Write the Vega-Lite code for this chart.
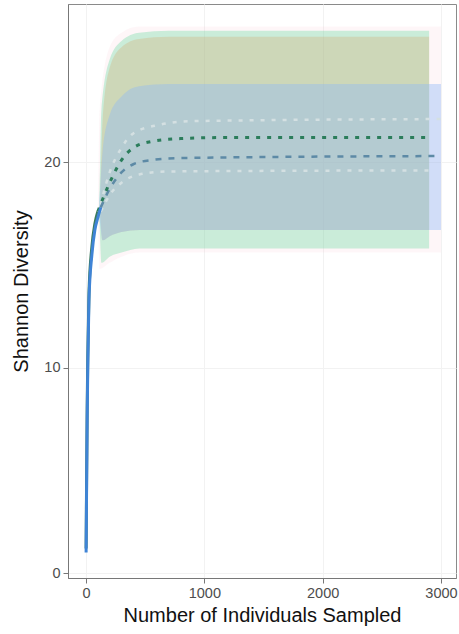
{
  "$schema": "https://vega.github.io/schema/vega-lite/v6.json",
  "width": 388,
  "height": 574,
  "autosize": {"type": "none"},
  "padding": {"left": 68, "top": 4, "right": 3, "bottom": 56},
  "background": "white",
  "config": {
    "view": {"stroke": "#8a8a8a", "strokeWidth": 1},
    "font": "Liberation Sans",
    "axis": {
      "domainColor": "#777777",
      "tickColor": "#777777",
      "tickSize": 5,
      "labelColor": "#4d4d4d",
      "labelFontSize": 14.5,
      "titleFontSize": 20,
      "titleFontWeight": "normal",
      "titleColor": "#111111",
      "gridColor": "#f2f2f2",
      "gridWidth": 1
    }
  },
  "datasets": {
    "bands": [
      {"group": "P", "x": 0, "lo": 1, "hi": 1},
      {"group": "P", "x": 50, "lo": 15.5, "hi": 15.9},
      {"group": "P", "x": 100, "lo": 17.1, "hi": 17.6},
      {"group": "P", "x": 115, "lo": 14.8, "hi": 22.5},
      {"group": "P", "x": 200, "lo": 15.1, "hi": 25.6},
      {"group": "P", "x": 300, "lo": 15.4, "hi": 26.3},
      {"group": "P", "x": 450, "lo": 15.6, "hi": 26.6},
      {"group": "P", "x": 700, "lo": 15.6, "hi": 26.6},
      {"group": "P", "x": 3000, "lo": 15.6, "hi": 26.6},
      {"group": "G", "x": 0, "lo": 1, "hi": 1},
      {"group": "G", "x": 50, "lo": 15.6, "hi": 16},
      {"group": "G", "x": 110, "lo": 17.3, "hi": 17.8},
      {"group": "G", "x": 130, "lo": 15.1, "hi": 22.5},
      {"group": "G", "x": 200, "lo": 15.4, "hi": 25},
      {"group": "G", "x": 300, "lo": 15.6, "hi": 25.9},
      {"group": "G", "x": 450, "lo": 15.8, "hi": 26.3},
      {"group": "G", "x": 700, "lo": 15.8, "hi": 26.4},
      {"group": "G", "x": 2900, "lo": 15.8, "hi": 26.4},
      {"group": "Y", "x": 120, "lo": 17.5, "hi": 17.8},
      {"group": "Y", "x": 140, "lo": 16.2, "hi": 22},
      {"group": "Y", "x": 200, "lo": 16.4, "hi": 24.6},
      {"group": "Y", "x": 300, "lo": 16.6, "hi": 25.6},
      {"group": "Y", "x": 450, "lo": 16.7, "hi": 26},
      {"group": "Y", "x": 700, "lo": 16.7, "hi": 26.1},
      {"group": "Y", "x": 2900, "lo": 16.7, "hi": 26.1},
      {"group": "B", "x": 0, "lo": 1, "hi": 1},
      {"group": "B", "x": 50, "lo": 15.3, "hi": 15.7},
      {"group": "B", "x": 110, "lo": 17.3, "hi": 17.8},
      {"group": "B", "x": 140, "lo": 16.2, "hi": 20.5},
      {"group": "B", "x": 200, "lo": 16.4, "hi": 22.3},
      {"group": "B", "x": 300, "lo": 16.6, "hi": 23.2},
      {"group": "B", "x": 450, "lo": 16.7, "hi": 23.7},
      {"group": "B", "x": 700, "lo": 16.7, "hi": 23.8},
      {"group": "B", "x": 3000, "lo": 16.7, "hi": 23.8}
    ],
    "rare": [
      {"group": "G", "x": 1, "y": 1.2},
      {"group": "G", "x": 5, "y": 4.4},
      {"group": "G", "x": 10, "y": 8},
      {"group": "G", "x": 15, "y": 10.5},
      {"group": "G", "x": 25, "y": 13.6},
      {"group": "G", "x": 50, "y": 15.9},
      {"group": "G", "x": 75, "y": 17},
      {"group": "G", "x": 100, "y": 17.6},
      {"group": "B", "x": 1, "y": 1},
      {"group": "B", "x": 5, "y": 4},
      {"group": "B", "x": 10, "y": 7.5},
      {"group": "B", "x": 15, "y": 10},
      {"group": "B", "x": 25, "y": 13.3},
      {"group": "B", "x": 50, "y": 15.5},
      {"group": "B", "x": 75, "y": 16.7},
      {"group": "B", "x": 100, "y": 17.3},
      {"group": "B", "x": 125, "y": 17.8}
    ],
    "extra": [
      {"group": "P", "x": 100, "y": 17.4},
      {"group": "P", "x": 200, "y": 19.5},
      {"group": "P", "x": 300, "y": 20.7},
      {"group": "P", "x": 400, "y": 21.4},
      {"group": "P", "x": 600, "y": 21.8},
      {"group": "P", "x": 900, "y": 22},
      {"group": "P", "x": 3000, "y": 22.1},
      {"group": "Y", "x": 125, "y": 17.6},
      {"group": "Y", "x": 200, "y": 18.4},
      {"group": "Y", "x": 300, "y": 19},
      {"group": "Y", "x": 450, "y": 19.4},
      {"group": "Y", "x": 700, "y": 19.55},
      {"group": "Y", "x": 2900, "y": 19.6},
      {"group": "B", "x": 125, "y": 17.8},
      {"group": "B", "x": 200, "y": 18.7},
      {"group": "B", "x": 300, "y": 19.5},
      {"group": "B", "x": 400, "y": 19.9},
      {"group": "B", "x": 550, "y": 20.1},
      {"group": "B", "x": 800, "y": 20.2},
      {"group": "B", "x": 3000, "y": 20.3},
      {"group": "G", "x": 100, "y": 17.6},
      {"group": "G", "x": 200, "y": 19},
      {"group": "G", "x": 300, "y": 20.1},
      {"group": "G", "x": 400, "y": 20.7},
      {"group": "G", "x": 550, "y": 21},
      {"group": "G", "x": 800, "y": 21.15},
      {"group": "G", "x": 1200, "y": 21.2},
      {"group": "G", "x": 2900, "y": 21.2}
    ]
  },
  "encoding": {
    "x": {
      "field": "x", "type": "quantitative",
      "scale": {"domain": [-152, 3127], "nice": false, "zero": false},
      "axis": {"values": [0, 1000, 2000, 3000], "format": "d", "title": "Number of Individuals Sampled", "titlePadding": 6, "labelPadding": 3}
    },
    "y": {
      "field": "lo", "type": "quantitative",
      "scale": {"domain": [-0.24, 27.7], "nice": false, "zero": false},
      "axis": {"values": [0, 10, 20], "title": "Shannon Diversity", "titlePadding": 12, "labelPadding": 3}
    }
  },
  "layer": [
    {
      "data": {"name": "bands"},
      "transform": [{"filter": "datum.group === 'P'"}],
      "mark": {"type": "area", "color": "#f4b8c4", "fillOpacity": 0.12, "interpolate": "monotone"},
      "encoding": {"y2": {"field": "hi"}}
    },
    {
      "data": {"name": "bands"},
      "transform": [{"filter": "datum.group === 'G'"}],
      "mark": {"type": "area", "color": "#5cd699", "fillOpacity": 0.32, "interpolate": "monotone"},
      "encoding": {"y2": {"field": "hi"}}
    },
    {
      "data": {"name": "bands"},
      "transform": [{"filter": "datum.group === 'Y'"}],
      "mark": {"type": "area", "color": "#d9a364", "fillOpacity": 0.28, "interpolate": "monotone"},
      "encoding": {"y2": {"field": "hi"}}
    },
    {
      "data": {"name": "bands"},
      "transform": [{"filter": "datum.group === 'B'"}],
      "mark": {"type": "area", "color": "#8fb8f8", "fillOpacity": 0.4, "interpolate": "monotone"},
      "encoding": {"y2": {"field": "hi"}}
    },
    {
      "data": {"name": "extra"},
      "transform": [{"filter": "datum.group === 'P' || datum.group === 'Y'"}],
      "mark": {"type": "line", "strokeWidth": 2.5, "strokeDash": [4, 7], "interpolate": "monotone"},
      "encoding": {
        "y": {"field": "y", "type": "quantitative"},
        "detail": {"field": "group"},
        "color": {"value": "#d4e0e2"}
      }
    },
    {
      "data": {"name": "extra"},
      "transform": [{"filter": "datum.group === 'B'"}],
      "mark": {"type": "line", "strokeWidth": 2.5, "strokeDash": [6, 7], "color": "#5d8aa6", "interpolate": "monotone"},
      "encoding": {"y": {"field": "y", "type": "quantitative"}}
    },
    {
      "data": {"name": "extra"},
      "transform": [{"filter": "datum.group === 'G'"}],
      "mark": {"type": "line", "strokeWidth": 3, "strokeDash": [4, 7], "color": "#2b7d5b", "interpolate": "monotone"},
      "encoding": {"y": {"field": "y", "type": "quantitative"}}
    },
    {
      "data": {"name": "rare"},
      "transform": [{"filter": "datum.group === 'G'"}],
      "mark": {"type": "line", "strokeWidth": 3, "color": "#3a7a5e", "interpolate": "monotone"},
      "encoding": {"y": {"field": "y", "type": "quantitative"}}
    },
    {
      "data": {"name": "rare"},
      "transform": [{"filter": "datum.group === 'B'"}],
      "mark": {"type": "line", "strokeWidth": 3, "color": "#3f84d6", "interpolate": "monotone"},
      "encoding": {"y": {"field": "y", "type": "quantitative"}}
    }
  ]
}
